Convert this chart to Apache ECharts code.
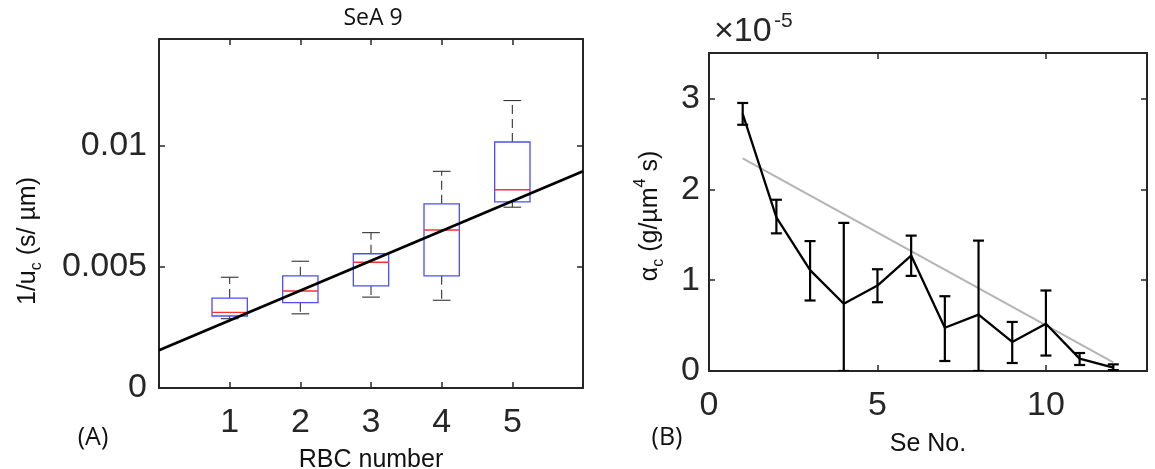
<!DOCTYPE html>
<html>
<head>
<meta charset="utf-8">
<script src="https://cdn.jsdelivr.net/npm/echarts@6/dist/echarts.min.js"></script>
<style>
  html, body { margin: 0; padding: 0; background: #fff; }
  #chart { width: 1155px; height: 469px; }
</style>
</head>
<body>
<div id="chart"></div>
<script>
// ---- Panel A: 1/u_c box statistics for each RBC number ----
const rbcNumbers  = [1, 2, 3, 4, 5];
const whiskerLow  = [0.00286, 0.00306, 0.00375, 0.00362, 0.00746];
const quartile1   = [0.00297, 0.00352, 0.00421, 0.00463, 0.00768];
const medians     = [0.00312, 0.00400, 0.00519, 0.00652, 0.00818];
const quartile3   = [0.00371, 0.00463, 0.00554, 0.00760, 0.01015];
const whiskerHigh = [0.00457, 0.00523, 0.00641, 0.00894, 0.01186];
// linear fit, evaluated at both x limits
const fitAx = [0, 6];
const fitAy = [0.00156, 0.00894];
const tickLabelsAx = [1, 2, 3, 4, 5];
const tickLabelsAy = [0, 0.005, 0.01];

// ---- Panel B: alpha_c per Se number, in units of 1e-5 g/(µm^4 s) ----
const seNo      = [1, 2, 3, 4, 5, 6, 7, 8, 9, 10, 11, 12];
const alphaMean = [2.83, 1.69, 1.11, 0.74, 0.94, 1.27, 0.476, 0.62, 0.32, 0.52, 0.136, 0.037];
const alphaHigh = [2.95, 1.885, 1.43, 1.63, 1.12, 1.49, 0.823, 1.435, 0.54, 0.886, 0.198, 0.073];
const alphaLow  = [2.71, 1.515, 0.776, 0, 0.757, 1.047, 0.11, 0, 0.088, 0.17, 0.066, 0.01];
// linear trend line end points
const fitBx = [1, 12];
const fitBy = [2.34, 0.095];
const tickLabelsBx = [0, 5, 10];
const tickLabelsBy = [0, 1, 2, 3];

const frameColor = '#262626';
const tickFont = 'Liberation Sans';

function pickLabel(list) {
  return function (v) {
    const t = list.find(function (x) { return Math.abs(x - v) < 1e-9; });
    return t === undefined ? '' : String(t);
  };
}

function frameAxis(extra) {
  return Object.assign({
    type: 'value',
    axisLine: { show: true, onZero: false, lineStyle: { color: frameColor, width: 2 } },
    axisTick: { show: true, inside: true, length: 6, lineStyle: { color: frameColor, width: 1.5 } },
    splitLine: { show: false },
    axisLabel: { show: false }
  }, extra);
}

const chart = echarts.init(document.getElementById('chart'), null, { renderer: 'canvas' });

const option = {
  animation: false,
  backgroundColor: '#fff',
  grid: [
    { left: 159, top: 39, width: 424, height: 349, containLabel: false, outerBoundsMode: 'none' },
    { left: 709, top: 53, width: 438, height: 318, containLabel: false, outerBoundsMode: 'none' }
  ],
  xAxis: [
    frameAxis({
      gridIndex: 0, position: 'bottom', min: 0, max: 6, interval: 1,
      axisLabel: { show: true, formatter: pickLabel(tickLabelsAx), fontFamily: tickFont,
        fontSize: 34, color: frameColor, margin: 18 },
      name: 'RBC number', nameLocation: 'middle', nameGap: 60,
      nameTextStyle: { fontFamily: tickFont, fontSize: 25, color: '#111' }
    }),
    frameAxis({ gridIndex: 0, position: 'top', min: 0, max: 6, interval: 1 }),
    frameAxis({
      gridIndex: 1, position: 'bottom', min: 0, max: 13, interval: 5,
      axisLabel: { show: true, formatter: pickLabel(tickLabelsBx), fontFamily: tickFont,
        fontSize: 34, color: frameColor, margin: 18, showMaxLabel: false },
      name: 'Se No.', nameLocation: 'middle', nameGap: 61,
      nameTextStyle: { fontFamily: tickFont, fontSize: 25, color: '#111' }
    }),
    frameAxis({ gridIndex: 1, position: 'top', min: 0, max: 13, interval: 5 })
  ],
  yAxis: [
    frameAxis({
      gridIndex: 0, position: 'left', min: 0, max: 0.0144, interval: 0.005,
      axisLabel: { show: true, formatter: pickLabel(tickLabelsAy), fontFamily: tickFont,
        fontSize: 34, color: frameColor, margin: 12, padding: [14, 0, 0, 0], showMaxLabel: false }
    }),
    frameAxis({ gridIndex: 0, position: 'right', min: 0, max: 0.0144, interval: 0.005 }),
    frameAxis({
      gridIndex: 1, position: 'left', min: 0, max: 3.5, interval: 1,
      axisLabel: { show: true, formatter: pickLabel(tickLabelsBy), fontFamily: tickFont,
        fontSize: 34, color: frameColor, margin: 9, padding: [13, 0, 0, 0], showMaxLabel: false }
    }),
    frameAxis({ gridIndex: 1, position: 'right', min: 0, max: 3.5, interval: 1 })
  ],
  series: [
    {
      // box plots: whiskers, caps, boxes and medians
      type: 'custom',
      xAxisIndex: 0, yAxisIndex: 0,
      data: rbcNumbers.map(function (n, i) {
        return [n, whiskerLow[i], quartile1[i], medians[i], quartile3[i], whiskerHigh[i]];
      }),
      renderItem: function (params, api) {
        const x = api.value(0);
        const lo = api.value(1), q1 = api.value(2), md = api.value(3), q3 = api.value(4), hi = api.value(5);
        const half = 0.25, cap = 0.125;
        const c = api.coord([x, md]);
        const pLo = api.coord([x, lo]), pHi = api.coord([x, hi]);
        const pQ1 = api.coord([x, q1]), pQ3 = api.coord([x, q3]);
        const xl = api.coord([x - half, md])[0], xr = api.coord([x + half, md])[0];
        const cl = api.coord([x - cap, md])[0], cr = api.coord([x + cap, md])[0];
        const whisk = { stroke: '#333', lineWidth: 1.1, lineDash: [9, 5] };
        const capStyle = { stroke: '#333', lineWidth: 1.1 };
        return {
          type: 'group',
          children: [
            { type: 'line', shape: { x1: c[0], y1: pQ3[1], x2: c[0], y2: pHi[1] }, style: whisk },
            { type: 'line', shape: { x1: c[0], y1: pQ1[1], x2: c[0], y2: pLo[1] }, style: whisk },
            { type: 'line', shape: { x1: cl, y1: pHi[1], x2: cr, y2: pHi[1] }, style: capStyle },
            { type: 'line', shape: { x1: cl, y1: pLo[1], x2: cr, y2: pLo[1] }, style: capStyle },
            { type: 'rect', shape: { x: xl, y: pQ3[1], width: xr - xl, height: pQ1[1] - pQ3[1] },
              style: { fill: 'none', stroke: '#4d4dff', lineWidth: 1.3 } },
            { type: 'line', shape: { x1: xl, y1: c[1], x2: xr, y2: c[1] },
              style: { stroke: '#ff3030', lineWidth: 1.4 } }
          ]
        };
      }
    },
    {
      type: 'line',
      xAxisIndex: 0, yAxisIndex: 0,
      data: fitAx.map(function (x, i) { return [x, fitAy[i]]; }),
      showSymbol: false,
      lineStyle: { color: '#000', width: 2.8 },
      z: 5
    },
    {
      type: 'line',
      xAxisIndex: 2, yAxisIndex: 2,
      data: fitBx.map(function (x, i) { return [x, fitBy[i]]; }),
      showSymbol: false,
      lineStyle: { color: '#b4b4b4', width: 2 },
      z: 2
    },
    {
      type: 'line',
      xAxisIndex: 2, yAxisIndex: 2,
      data: seNo.map(function (x, i) { return [x, alphaMean[i]]; }),
      showSymbol: false,
      lineStyle: { color: '#000', width: 2.3 },
      z: 4
    },
    {
      // error bars
      type: 'custom',
      xAxisIndex: 2, yAxisIndex: 2,
      clip: true,
      data: seNo.map(function (x, i) { return [x, alphaLow[i], alphaHigh[i]]; }),
      renderItem: function (params, api) {
        const pLo = api.coord([api.value(0), api.value(1)]);
        const pHi = api.coord([api.value(0), api.value(2)]);
        const w = 5.5;
        const st = { stroke: '#000', lineWidth: 2.2 };
        return {
          type: 'group',
          children: [
            { type: 'line', shape: { x1: pLo[0], y1: pLo[1], x2: pHi[0], y2: pHi[1] }, style: st },
            { type: 'line', shape: { x1: pHi[0] - w, y1: pHi[1], x2: pHi[0] + w, y2: pHi[1] }, style: st },
            { type: 'line', shape: { x1: pLo[0] - w, y1: pLo[1], x2: pLo[0] + w, y2: pLo[1] }, style: st }
          ]
        };
      },
      z: 5
    }
  ],
  graphic: [
    { type: 'text', x: 373, y: 18,
      style: { text: 'SeA 9', fontFamily: 'Open Sans', fontSize: 23, fill: '#111',
        textAlign: 'center', textVerticalAlign: 'middle' } },
    { type: 'text', x: 28, y: 241, rotation: Math.PI / 2,
      style: {
        text: '1/u{sub|c} (s/ µm)',
        fontFamily: tickFont, fontSize: 25, fill: '#111', lineHeight: 34,
        textAlign: 'center', textVerticalAlign: 'middle',
        rich: { sub: { fontFamily: tickFont, fontSize: 16, lineHeight: 20, verticalAlign: 'bottom', fill: '#111' } }
      } },
    { type: 'text', x: 650, y: 216, rotation: Math.PI / 2,
      style: {
        text: 'α{sub|c} (g/µm{sup|4} s)',
        fontFamily: tickFont, fontSize: 25, fill: '#111', lineHeight: 34,
        textAlign: 'center', textVerticalAlign: 'middle',
        rich: {
          sub: { fontFamily: tickFont, fontSize: 16, lineHeight: 20, verticalAlign: 'bottom', fill: '#111' },
          sup: { fontFamily: tickFont, fontSize: 16, lineHeight: 20, verticalAlign: 'top', fill: '#111' }
        }
      } },
    { type: 'text', x: 714, y: 32,
      style: { text: '×10', fontFamily: tickFont, fontSize: 34, fill: frameColor,
        textAlign: 'left', textVerticalAlign: 'middle' } },
    { type: 'text', x: 774, y: 21,
      style: { text: '-5', fontFamily: tickFont, fontSize: 21, fill: frameColor,
        textAlign: 'left', textVerticalAlign: 'middle' } },
    { type: 'text', x: 93, y: 438,
      style: { text: '(A)', fontFamily: 'Open Sans', fontSize: 25, fill: '#111',
        textAlign: 'center', textVerticalAlign: 'middle' } },
    { type: 'text', x: 667, y: 438,
      style: { text: '(B)', fontFamily: 'Open Sans', fontSize: 25, fill: '#111',
        textAlign: 'center', textVerticalAlign: 'middle' } }
  ]
};

chart.setOption(option);
</script>
</body>
</html>
